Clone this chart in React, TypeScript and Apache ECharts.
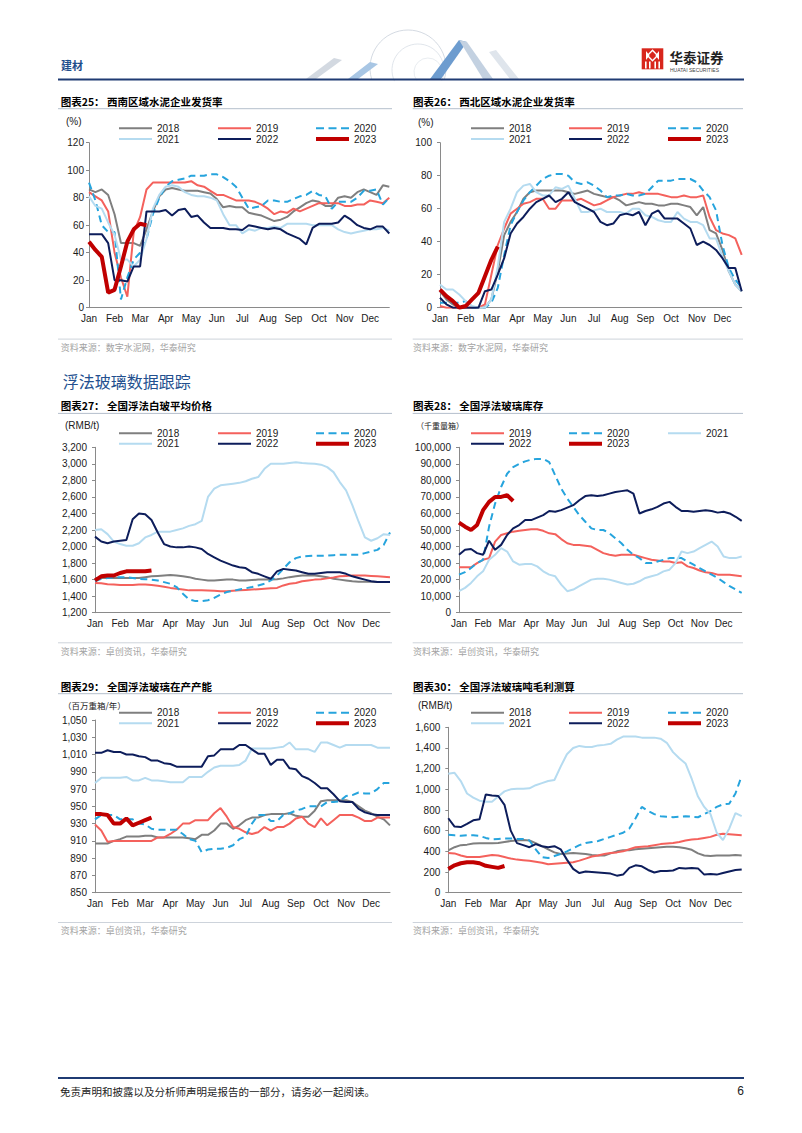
import React, { useEffect, useRef } from "react";
import * as echarts from "echarts";

// ---------- categories ----------
const months = ["Jan", "Feb", "Mar", "Apr", "May", "Jun", "Jul", "Aug", "Sep", "Oct", "Nov", "Dec"];
const weekLabels = months.flatMap((m) => ["1", "2", "3", "4"].map((w) => `${m}-${w}`));

// ---------- 图表25 西南区域水泥企业发货率 (%) ----------
const sw2018 = [86,84,86,82,68,47,47,47,45,57,70,81,86,87,86,85,85,85,84,83,79,73,74,73,73,69,68,67,65,63,64,66,70,73,76,78,77,74,74,80,81,80,84,86,84,82,89,88];
const sw2019 = [84,81,78,70,40,22,8,55,66,86,91,91,91,91,91,91,92,89,88,85,82,82,80,78,78,78,77,75,72,68,70,69,72,70,72,74,76,76,76,76,74,74,75,75,78,77,76,80];
const sw2020 = [91,78,60,55,55,6,22,35,40,50,68,80,88,92,93,94,96,96,96,97,97,95,92,88,80,72,73,74,78,78,77,77,79,81,82,85,82,81,72,77,77,77,80,85,85,86,75,80];
const sw2021 = [81,74,72,62,53,35,35,30,35,50,72,82,88,89,88,84,82,81,81,80,78,68,60,60,54,57,56,58,58,59,58,61,61,61,61,60,60,60,60,57,55,54,55,56,57,57,58,56];
const sw2022 = [53.5,53.5,53.5,47,20,20,19,30,30,70,70,70,71,67,71,72,66,67,62,58,58,58,57,57,56.5,60,59,58,57,58,57,54,52,50,46,58,61,61,61,62,67,64,60,58,57,59,59,54];
const sw2023 = [48,42,37,11,13,30,48,57,61,60];

// ---------- 图表26 西北区域水泥企业发货率 (%) ----------
const nw2018 = [10,5,2,0,0,0,0,0,5,22,44,52,58,66,70,71,71,71,71,71,70,69,70,71,69,68,67,67,65,62,63,64,63,63,62,62,63,63,62,61,56,61,47,45,35,22,14,10];
const nw2019 = [1,0,0,0,0,0,0,2,20,38,48,57,60,63,64,66,66,60,60,65,65,65,66,64,62,63,65,67,68,69,69,70,69,69,69,68,67,67,68,67,67,68,55,47,45,44,42,32];
const nw2020 = [3,3,3,3,4,0,0,0,3,12,32,50,58,65,70,74,78,80,81,81,80,76,75,76,74,71,67,68,68,69,68,68,69,73,77,77,77,78,78,78,76,71,67,59,38,24,17,12];
const nw2021 = [14,11,11,8,4,1,0,0,5,25,52,60,70,74,75,70,68,68,73,72,74,66,58,58,59,60,58,58,58,57,60,60,56,55,53,52,52,58,54,52,52,50,42,42,31,22,14,10];
const nw2022 = [6,2,0,0,0,0,0,10,11,20,30,45,51,55,60,64,66,68,64,66,70,64,62,60,58,52,50,51,56,57,56,58,50,57,59,54,54,54,51,48,38,40,38,35,30,24,24,10];
const nw2023 = [11,7,4,0,1,5,9,19,29,37];

// ---------- 图表27 全国浮法白玻平均价格 (RMB/t) ----------
const pr2018 = [1620,1620,1620,1620,1620,1620,1620,1620,1630,1640,1645,1650,1655,1650,1640,1630,1610,1600,1590,1590,1595,1600,1600,1590,1590,1595,1600,1600,1600,1605,1615,1630,1640,1650,1650,1650,1640,1630,1610,1600,1590,1580,1575,1575,1575,1570,1570,1570];
const pr2019 = [1560,1555,1545,1540,1535,1535,1535,1540,1540,1535,1525,1515,1500,1490,1480,1470,1470,1470,1468,1465,1460,1460,1465,1470,1475,1480,1485,1490,1495,1500,1530,1550,1560,1580,1590,1600,1605,1615,1625,1640,1645,1650,1650,1650,1645,1640,1635,1630];
const pr2020 = [1580,1610,1620,1625,1630,1630,1620,1610,1605,1600,1590,1570,1550,1510,1430,1360,1340,1340,1350,1380,1420,1450,1465,1480,1495,1510,1530,1550,1590,1650,1730,1810,1860,1880,1885,1890,1890,1890,1895,1900,1900,1900,1900,1920,1940,1960,2020,2170];
const pr2021 = [2200,2210,2150,2060,2030,2010,2010,2040,2110,2140,2180,2180,2180,2200,2220,2250,2270,2310,2600,2700,2740,2750,2760,2770,2790,2820,2840,2940,3000,3000,3000,3010,3020,3010,3005,3000,2990,2960,2900,2780,2680,2500,2300,2110,2070,2100,2150,2140];
const pr2022 = [2120,2060,2040,2060,2070,2080,2330,2400,2390,2320,2170,2030,2000,1990,1990,2000,1990,1970,1910,1870,1830,1800,1770,1750,1740,1690,1670,1640,1610,1700,1730,1720,1710,1690,1670,1670,1680,1690,1690,1690,1670,1640,1620,1600,1580,1570,1570,1570];
const pr2023 = [1590,1640,1650,1650,1680,1700,1700,1700,1700,1710];

// ---------- 图表28 全国浮法玻璃库存 (千重量箱) ----------
const inv2019 = [27500,27500,27500,30000,32000,33000,43000,47000,48000,49000,49500,50000,50500,50500,49500,48000,47500,44500,42000,41000,41000,40500,40000,38000,36000,35000,34500,35000,35000,35000,34000,33000,32000,31500,31000,31000,30000,30500,28000,27000,25500,24500,24000,23000,23000,23000,22500,22000];
const inv2020 = [23000,24500,27000,30000,32000,52000,66000,76000,84000,88000,90000,91500,92500,93000,93000,91000,83000,75000,69000,64000,59000,55000,51000,50000,50000,48000,45000,42000,38000,35000,33000,30000,30000,31000,32000,33000,33000,33000,31000,29000,27000,25000,23000,21000,18500,16000,14000,12000];
const inv2021 = [13000,15000,18000,22000,25000,32000,35000,39000,37000,31000,29000,29500,29500,28000,25000,23000,22000,17000,13000,14000,16000,18000,20000,20500,20500,20000,19000,18000,17000,17500,19000,21000,22000,23000,25000,26000,30000,37000,36000,37000,39000,41000,43000,40000,34000,33000,33000,34000];
const inv2022 = [35000,38000,38500,36000,35000,43500,38000,41000,47000,51000,53000,56000,56000,57500,59000,61500,61000,62000,63500,65000,68000,70500,71000,70500,71000,72000,73000,73500,74000,72000,60000,61500,62500,64000,66000,67000,64000,61500,61500,61000,61500,62000,61500,60500,61000,60000,58000,55500];
const inv2023 = [54500,52000,50000,53000,62000,67000,70000,70000,71000,67500];

// ---------- 图表29 全国浮法玻璃在产产能 (百万重箱/年) ----------
const cap2018 = [907,907,907,910,912,915,915,915,916,916,914,914,914,914,914,913,912,917,917,922,930,930,924,928,934,937,937,940,941,941,941,942,939,938,938,945,956,957,957,957,957,955,950,945,942,938,935,928];
const cap2019 = [929,922,909,910,910,910,910,910,910,910,914,914,918,923,930,930,934,934,934,942,948,938,926,924,920,918,920,926,922,926,926,930,936,938,930,926,936,928,934,940,940,940,937,933,933,937,937,937];
const cap2020 = [935,940,940,940,935,935,935,930,929,924,923,923,923,923,918,912,910,897,900,901,901,902,905,912,915,930,940,940,933,933,940,942,945,947,950,950,950,955,955,956,962,963,966,965,965,970,977,977];
const cap2021 = [977,983,983,983,983,984,980,980,983,980,980,979,978,978,978,984,984,984,990,995,997,997,997,998,1003,1017,1017,1017,1017,1018,1019,1024,1016,1016,1016,1013,1024,1024,1021,1018,1021,1021,1021,1021,1021,1018,1018,1018];
const cap2022 = [1012,1012,1015,1013,1013,1010,1010,1008,1007,1003,1003,1000,999,996,996,996,996,996,1008,1009,1016,1016,1016,1021,1021,1016,1011,1011,998,1004,1004,994,993,985,982,977,971,971,964,956,955,955,947,943,941,940,940,940];
const cap2023 = [941,941,940,930,930,936,928,931,934,937];

// ---------- 图表30 全国浮法玻璃吨毛利测算 (RMB/t) ----------
const mg2018 = [410,440,460,465,475,478,478,478,480,490,500,505,510,505,480,450,420,390,375,380,385,380,375,365,360,360,380,400,410,410,420,425,430,435,440,445,445,440,430,415,380,360,355,360,360,360,365,360];
const mg2019 = [385,380,360,345,345,345,355,365,360,345,330,320,315,310,300,290,275,280,285,290,295,310,330,350,360,375,385,390,400,420,440,445,450,460,470,475,480,490,505,515,520,530,540,560,570,565,560,555];
const mg2020 = [560,555,550,555,555,550,530,515,520,525,525,520,520,505,420,345,335,355,375,400,430,460,480,490,500,520,540,560,580,620,720,830,790,760,740,735,730,735,740,735,730,760,790,830,855,860,960,1130];
const mg2021 = [1150,1160,1080,960,920,890,880,880,930,980,1000,1005,1005,1010,1040,1060,1080,1090,1220,1340,1400,1420,1410,1410,1425,1430,1440,1480,1510,1510,1510,1500,1500,1500,1490,1450,1360,1300,1250,1100,930,830,760,580,510,620,770,740];
const mg2022 = [720,640,635,665,700,710,950,940,935,850,600,480,460,440,470,450,440,450,420,320,230,190,205,200,195,190,185,165,175,240,265,255,220,195,210,210,215,240,235,240,235,175,180,175,190,205,220,225];
const mg2023 = [230,265,285,295,295,285,260,250,240,258];

// ---------- styles ----------
const FONT_NUM = "'Liberation Sans', Arial, Helvetica, sans-serif";
const FONT_CJK = "'Noto Sans CJK SC', 'Noto Sans CJK JP', sans-serif";
const AXIS_COLOR = "#8a8a8a";
const TEXT_COLOR = "#1a1a1a";

const STYLES: Record<string, { color: string; width: number; dash?: number[] }> = {
  "2018": { color: "#7f7f7f", width: 2 },
  "2019": { color: "#f4615c", width: 2 },
  "2020": { color: "#26a4dd", width: 2, dash: [7, 4.5] },
  "2021": { color: "#b5dbf0", width: 2 },
  "2022": { color: "#0d1d5b", width: 2 },
  "2023": { color: "#c00000", width: 4 },
};
const DASH_ICON = "path://M0,0h8v2h-8z M12.5,0h8v2h-8z M25,0h8v2h-8z";

const LEFT_COLS = [119, 218, 316];
const RIGHT_COLS = [471, 569, 668];
const STD_LEGEND: [string, number, number][] = [
  ["2018", 0, 0], ["2019", 0, 1], ["2020", 0, 2],
  ["2021", 1, 0], ["2022", 1, 1], ["2023", 1, 2],
];

type Panel = {
  left: number; top: number; width: number; height: number;
  min: number; max: number; interval: number; labelMargin: number;
  series: [string, number[]][];
  legend: [string, number, number][];
  cols: number[]; rows: number[];
};

const panels: Panel[] = [
  {
    left: 89, top: 142.7, width: 300.3, height: 165, min: 0, max: 120, interval: 20, labelMargin: 5,
    series: [["2018", sw2018], ["2019", sw2019], ["2020", sw2020], ["2021", sw2021], ["2022", sw2022], ["2023", sw2023]],
    legend: STD_LEGEND, cols: LEFT_COLS, rows: [128.3, 139],
  },
  {
    left: 440, top: 142.7, width: 301.7, height: 165, min: 0, max: 100, interval: 20, labelMargin: 8,
    series: [["2018", nw2018], ["2019", nw2019], ["2020", nw2020], ["2021", nw2021], ["2022", nw2022], ["2023", nw2023]],
    legend: STD_LEGEND, cols: RIGHT_COLS, rows: [128.3, 139],
  },
  {
    left: 95, top: 447.3, width: 295, height: 165.4, min: 1200, max: 3200, interval: 200, labelMargin: 8,
    series: [["2018", pr2018], ["2019", pr2019], ["2020", pr2020], ["2021", pr2021], ["2022", pr2022], ["2023", pr2023]],
    legend: STD_LEGEND, cols: LEFT_COLS, rows: [433.3, 443.7],
  },
  {
    left: 459, top: 447.3, width: 282.7, height: 165.4, min: 0, max: 100000, interval: 10000, labelMargin: 8,
    series: [["2019", inv2019], ["2020", inv2020], ["2021", inv2021], ["2022", inv2022], ["2023", inv2023]],
    legend: [["2019", 0, 0], ["2020", 0, 1], ["2021", 0, 2], ["2022", 1, 0], ["2023", 1, 1]],
    cols: RIGHT_COLS, rows: [433.3, 443.7],
  },
  {
    left: 95, top: 720, width: 295, height: 172.7, min: 850, max: 1050, interval: 20, labelMargin: 8,
    series: [["2018", cap2018], ["2019", cap2019], ["2020", cap2020], ["2021", cap2021], ["2022", cap2022], ["2023", cap2023]],
    legend: STD_LEGEND, cols: LEFT_COLS, rows: [712.7, 723.3],
  },
  {
    left: 448.3, top: 727.3, width: 293.4, height: 165.4, min: 0, max: 1600, interval: 200, labelMargin: 8,
    series: [["2018", mg2018], ["2019", mg2019], ["2020", mg2020], ["2021", mg2021], ["2022", mg2022], ["2023", mg2023]],
    legend: STD_LEGEND, cols: RIGHT_COLS, rows: [712.7, 723.3],
  },
];

const titles: [number, number, string][] = [
  [60.7, 101, "图表25： 西南区域水泥企业发货率"],
  [413, 101, "图表26： 西北区域水泥企业发货率"],
  [60.7, 405.7, "图表27： 全国浮法白玻平均价格"],
  [413, 405.7, "图表28： 全国浮法玻璃库存"],
  [60.7, 686, "图表29： 全国浮法玻璃在产产能"],
  [413, 686, "图表30： 全国浮法玻璃吨毛利测算"],
];
const units: [number, number, string, number][] = [
  [66, 121, "(%)", 10],
  [418, 122, "(%)", 10],
  [65, 425.7, "(RMB/t)", 10],
  [416, 425.7, "（千重量箱）", 8],
  [63, 705, "（百万重箱/年）", 8.5],
  [418, 705, "(RMB/t)", 10],
];
const sources: [number, number, string][] = [
  [60.7, 347.3, "资料来源：数字水泥网，华泰研究"],
  [413, 347.3, "资料来源：数字水泥网，华泰研究"],
  [60.7, 651, "资料来源：卓创资讯，华泰研究"],
  [413, 651, "资料来源：卓创资讯，华泰研究"],
  [60.7, 930.7, "资料来源：卓创资讯，华泰研究"],
  [413, 930.7, "资料来源：卓创资讯，华泰研究"],
];

function txt(x: number, y: number, text: string, size: number, color: string, opts: any = {}) {
  return {
    type: "text",
    x,
    y,
    silent: true,
    style: {
      text,
      fill: color,
      font: `${opts.weight || "normal"} ${size}px ${opts.family || FONT_CJK}`,
      textAlign: opts.align || "left",
      textVerticalAlign: "middle",
      verticalAlign: "middle",
    },
  };
}
function hline(x1: number, x2: number, y: number, color: string, w: number) {
  return { type: "line", silent: true, shape: { x1, y1: y, x2, y2: y }, style: { stroke: color, lineWidth: w } };
}

function buildOption() {
  const grid: any[] = [];
  const xAxis: any[] = [];
  const yAxis: any[] = [];
  const series: any[] = [];
  const legend: any[] = [];

  panels.forEach((p, i) => {
    grid.push({ left: p.left, top: p.top, width: p.width, height: p.height });
    xAxis.push({
      type: "category",
      gridIndex: i,
      data: weekLabels,
      boundaryGap: false,
      axisLine: { onZero: false, lineStyle: { color: AXIS_COLOR, width: 1 } },
      axisTick: { show: false },
      splitLine: { show: false },
      axisLabel: {
        interval: 3,
        formatter: (v: string) => v.split("-")[0],
        fontSize: 10,
        color: TEXT_COLOR,
        fontFamily: FONT_NUM,
        margin: 6,
      },
    });
    yAxis.push({
      type: "value",
      gridIndex: i,
      min: p.min,
      max: p.max,
      interval: p.interval,
      splitLine: { show: false },
      axisLine: { show: true, lineStyle: { color: AXIS_COLOR, width: 1 } },
      axisTick: { show: true, length: 3, lineStyle: { color: AXIS_COLOR } },
      axisLabel: {
        fontSize: 10,
        color: TEXT_COLOR,
        fontFamily: FONT_NUM,
        margin: p.labelMargin,
        formatter: (v: number) => v.toLocaleString("en-US"),
      },
    });
    p.series.forEach(([name, data]) => {
      const s = STYLES[name];
      series.push({
        type: "line",
        name,
        xAxisIndex: i,
        yAxisIndex: i,
        data,
        symbol: "none",
        color: s.color,
        z: name === "2023" ? 4 : 2,
        lineStyle: { color: s.color, width: s.width, type: s.dash || "solid" },
      });
    });
    p.legend.forEach(([name, row, col]) => {
      const s = STYLES[name];
      const h = s.width;
      legend.push({
        data: [{ name, icon: s.dash ? DASH_ICON : "rect" }],
        left: p.cols[col],
        top: p.rows[row] - 5,
        padding: 0,
        itemWidth: 33,
        itemHeight: h,
        selectedMode: false,
        itemStyle: { borderWidth: 0 },
        textStyle: { fontSize: 10, lineHeight: 10, color: TEXT_COLOR, fontFamily: FONT_NUM },
      });
    });
  });

  const graphic: any[] = [];
  // header decoration (globe and ribbons)
  graphic.push(
    { type: "arc", silent: true, shape: { cx: 408, cy: 68, r: 38, startAngle: 2.85, endAngle: 6.58 }, style: { stroke: "#c9d1db", lineWidth: 0.8, fill: "none" } },
    { type: "arc", silent: true, shape: { cx: 418, cy: 70, r: 26, startAngle: 2.7, endAngle: 6.7 }, style: { stroke: "#d3dae2", lineWidth: 0.7, fill: "none" } },
    { type: "arc", silent: true, shape: { cx: 428, cy: 72, r: 14, startAngle: 2.5, endAngle: 6.9 }, style: { stroke: "#d9dfe6", lineWidth: 0.6, fill: "none" } },
    { type: "polygon", silent: true, shape: { points: [[306, 79], [316, 79], [342, 60], [334, 58]] }, style: { fill: "#d3d9e1" } },
    { type: "polygon", silent: true, shape: { points: [[348, 79], [358, 79], [378, 64], [370, 62]] }, style: { fill: "#a8c6e4" } },
    { type: "polygon", silent: true, shape: { points: [[430, 79], [441, 79], [467, 42], [459, 40]] }, style: { fill: "#6d9ccf" } },
    { type: "polygon", silent: true, shape: { points: [[459, 40], [467, 42], [493, 79], [483, 79]] }, style: { fill: "#c3d1e1" } },
    { type: "polygon", silent: true, shape: { points: [[489, 52], [496, 50], [519, 79], [510, 79]] }, style: { fill: "#dfe5ec" } },
  );
  // header
  graphic.push(txt(61, 65, "建材", 11, "#1f4e8c", { weight: "bold" }));
  graphic.push(hline(58, 744, 79.5, "#1f3b73", 2));
  // logo
  graphic.push(
    { type: "rect", silent: true, shape: { x: 641.7, y: 48.3, width: 21.6, height: 21 }, style: { fill: "#d8261c" } },
    { type: "polygon", silent: true, shape: { points: [[652.5, 50.2], [657.5, 55.5], [652.5, 60.8], [647.5, 55.5]] }, style: { fill: "none", stroke: "#ffffff", lineWidth: 1.4 } },
    { type: "polygon", silent: true, shape: { points: [[646, 51], [649.5, 55.5], [646, 60]] }, style: { fill: "#ffffff" } },
    { type: "polygon", silent: true, shape: { points: [[659, 51], [655.5, 55.5], [659, 60]] }, style: { fill: "#ffffff" } },
    { type: "rect", silent: true, shape: { x: 645, y: 61.5, width: 1.6, height: 7 }, style: { fill: "#ffffff" } },
    { type: "rect", silent: true, shape: { x: 649, y: 61.5, width: 1.6, height: 7 }, style: { fill: "#ffffff" } },
    { type: "rect", silent: true, shape: { x: 654.4, y: 61.5, width: 1.6, height: 7 }, style: { fill: "#ffffff" } },
    { type: "rect", silent: true, shape: { x: 658.4, y: 61.5, width: 1.6, height: 7 }, style: { fill: "#ffffff" } },
  );
  graphic.push(txt(669.5, 56.5, "华泰证券", 13.5, "#222222", { weight: "bold" }));
  graphic.push(txt(670, 70, "HUATAI SECURITIES", 5, "#444444", { family: FONT_NUM }));

  // section heading
  graphic.push(txt(62.7, 381, "浮法玻璃数据跟踪", 16, "#23508f"));

  // chart titles, underlines, units, sources
  titles.forEach(([x, y, t]) => {
    graphic.push(txt(x, y, t, 10.5, "#000000", { weight: "bold" }));
    const left = x < 200;
    graphic.push(hline(left ? 58 : 412.7, left ? 392 : 743, y + 7.7, "#b4bfcc", 1));
  });
  units.forEach(([x, y, t, s]) => graphic.push(txt(x, y, t, s, "#222222", { family: t.startsWith("(") ? FONT_NUM : FONT_CJK })));
  sources.forEach(([x, y, t]) => {
    const left = x < 200;
    graphic.push(hline(left ? 58 : 412.7, left ? 392 : 743, y - 8.2, "#cdd3db", 1));
    graphic.push(txt(x, y, t, 9, "#a3a3a3"));
  });

  // footer
  graphic.push(hline(58, 744, 1078, "#1f3b73", 2));
  graphic.push(txt(60, 1091, "免责声明和披露以及分析师声明是报告的一部分，请务必一起阅读。", 10.5, "#222222"));
  graphic.push(txt(744, 1091, "6", 12, "#222222", { align: "right", family: FONT_NUM }));

  return {
    animation: false,
    backgroundColor: "#ffffff",
    grid,
    xAxis,
    yAxis,
    series,
    legend,
    graphic: { elements: graphic },
  };
}

export default function App() {
  const ref = useRef<HTMLDivElement>(null);
  useEffect(() => {
    document.body.style.margin = "0";
    if (!ref.current) return;
    const chart = echarts.init(ref.current, undefined, { renderer: "svg" });
    chart.setOption(buildOption() as any);
    return () => chart.dispose();
  }, []);
  return (
    <div
      ref={ref}
      style={{ position: "absolute", left: 0, top: 0, width: 802, height: 1133, background: "#ffffff" }}
    />
  );
}
